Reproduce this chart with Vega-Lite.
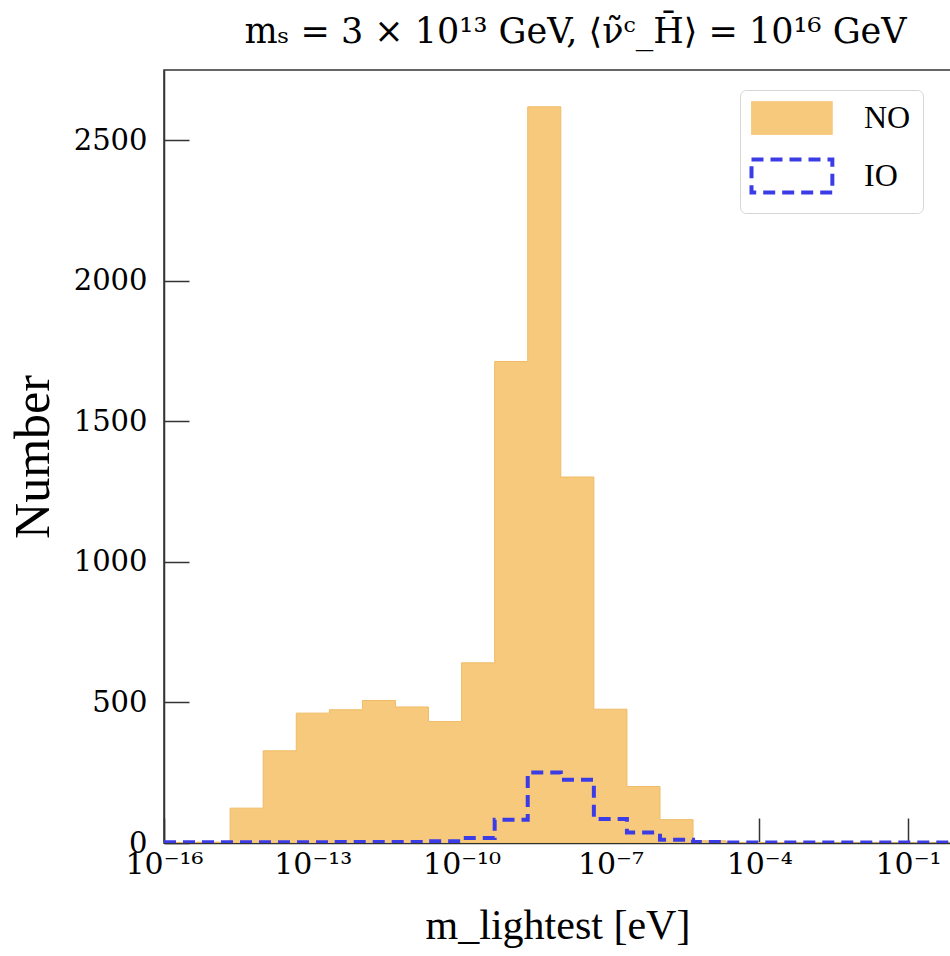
{
  "$schema": "https://vega.github.io/schema/vega-lite/v6.json",
  "autosize": {"type": "none"},
  "padding": {"left": 164, "top": 70, "right": 0, "bottom": 113},
  "width": 787,
  "height": 773,
  "background": "white",
  "title": {
    "text": "mₛ = 3 × 10¹³ GeV, ⟨ν̃ᶜ_H̄⟩ = 10¹⁶ GeV",
    "font": "DejaVu Serif",
    "fontSize": 35,
    "fontWeight": "normal",
    "color": "black",
    "anchor": "middle",
    "dx": 18,
    "offset": 20
  },
  "config": {
    "view": {"stroke": "#333333", "strokeWidth": 1.5},
    "axis": {
      "labelFont": "DejaVu Serif",
      "titleFont": "Liberation Serif",
      "labelColor": "black",
      "titleColor": "black",
      "titleFontWeight": "normal",
      "domainColor": "#333333",
      "domainWidth": 1.5,
      "tickColor": "#333333",
      "tickWidth": 1.5,
      "grid": false
    }
  },
  "data": {
    "values": [
      {"edge": 1e-16, "NO": 2, "IO": 3},
      {"edge": 4.642e-16, "NO": 3, "IO": 3},
      {"edge": 2.154e-15, "NO": 124, "IO": 3},
      {"edge": 1e-14, "NO": 328, "IO": 3},
      {"edge": 4.642e-14, "NO": 462, "IO": 3},
      {"edge": 2.154e-13, "NO": 474, "IO": 4},
      {"edge": 1e-12, "NO": 507, "IO": 4},
      {"edge": 4.642e-12, "NO": 484, "IO": 4},
      {"edge": 2.154e-11, "NO": 432, "IO": 6},
      {"edge": 1e-10, "NO": 641, "IO": 18},
      {"edge": 4.642e-10, "NO": 1713, "IO": 83},
      {"edge": 2.154e-9, "NO": 2619, "IO": 251},
      {"edge": 1e-8, "NO": 1302, "IO": 225},
      {"edge": 4.642e-8, "NO": 476, "IO": 85},
      {"edge": 2.154e-7, "NO": 201, "IO": 37},
      {"edge": 1e-6, "NO": 83, "IO": 12},
      {"edge": 4.642e-6, "NO": 8, "IO": 4},
      {"edge": 2.154e-5, "NO": 2, "IO": 2},
      {"edge": 1e-4, "NO": 1, "IO": 2},
      {"edge": 4.642e-4, "NO": 0, "IO": 2},
      {"edge": 2.154e-3, "NO": 0, "IO": 2},
      {"edge": 1e-2, "NO": 0, "IO": 2},
      {"edge": 4.642e-2, "NO": 0, "IO": 2},
      {"edge": 0.2154, "NO": 0, "IO": 2},
      {"edge": 1, "NO": 0, "IO": 0}
    ]
  },
  "encoding": {
    "x": {
      "field": "edge",
      "type": "quantitative",
      "scale": {"type": "log", "domain": [1e-16, 0.736], "nice": false},
      "axis": {
        "title": "m_lightest [eV]",
        "titleFontSize": 42,
        "titlePadding": 26,
        "values": [1e-16, 1e-13, 1e-10, 1e-7, 1e-4, 1e-1],
        "labelExpr": "datum.value < 1e-15 ? '10⁻¹⁶' : datum.value < 1e-12 ? '10⁻¹³' : datum.value < 1e-9 ? '10⁻¹⁰' : datum.value < 1e-6 ? '10⁻⁷' : datum.value < 1e-3 ? '10⁻⁴' : '10⁻¹'",
        "labelFontSize": 30,
        "tickSize": -25,
        "labelPadding": 31,
        "labelFlush": false,
        "labelOverlap": false
      }
    }
  },
  "layer": [
    {
      "mark": {"type": "area", "interpolate": "step-after", "stroke": "#efbc66", "strokeWidth": 1, "opacity": 1, "clip": true},
      "encoding": {
        "y": {
          "field": "NO",
          "type": "quantitative",
          "scale": {"domain": [0, 2750], "nice": false},
          "axis": {
            "title": "Number",
            "titleFontSize": 50,
            "titlePadding": 15,
            "values": [0, 500, 1000, 1500, 2000, 2500],
            "format": "d",
            "labelFontSize": 29,
            "tickSize": -25,
            "labelPadding": 42
          }
        },
        "color": {
          "datum": "NO",
          "scale": {"domain": ["NO", "IO"], "range": ["#f6c97c", "#3c3ce6"]},
          "legend": {
            "orient": "none",
            "legendX": 576,
            "legendY": 20,
            "title": null,
            "padding": 12,
            "cornerRadius": 6,
            "strokeColor": "#d6d6d6",
            "fillColor": "white",
            "labelFont": "Liberation Serif",
            "labelFontSize": 32,
            "labelColor": "black",
            "labelOffset": 80,
            "symbolType": "M-1,-1H3.9V1H-1Z",
            "symbolSize": 1089,
            "rowPadding": 14,
            "encoding": {
              "symbols": {
                "fill": {"value": {"expr": "datum.value === 'NO' ? '#f6c97c' : 'white'"}},
                "fillOpacity": {"value": {"expr": "datum.value === 'NO' ? 1 : 0"}},
                "stroke": {"value": {"expr": "datum.value === 'NO' ? '#efbc66' : '#3c3ce6'"}},
                "strokeWidth": {"value": {"expr": "datum.value === 'NO' ? 1 : 4"}},
                "strokeDash": {"value": {"expr": "datum.value === 'NO' ? [1, 0] : [12, 7]"}},
                "opacity": {"value": 1}
              }
            }
          }
        }
      }
    },
    {
      "mark": {"type": "line", "interpolate": "step-after", "strokeWidth": 4, "strokeDash": [12, 7], "clip": true},
      "encoding": {
        "y": {"field": "IO", "type": "quantitative"},
        "color": {"datum": "IO"}
      }
    }
  ]
}
